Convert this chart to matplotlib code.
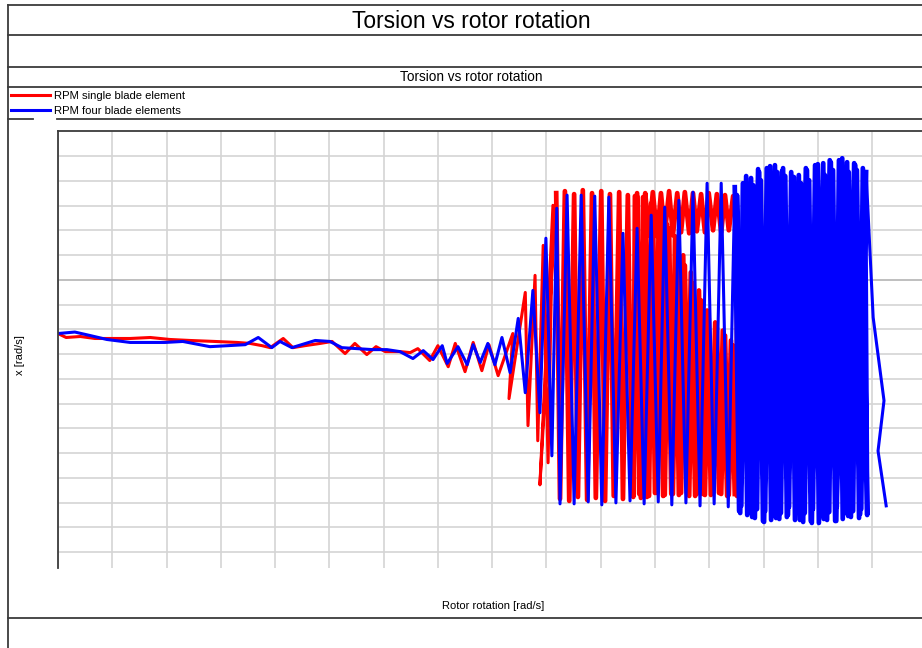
import matplotlib
matplotlib.use("Agg")
import matplotlib.pyplot as plt
from matplotlib.lines import Line2D

plt.rcParams['font.family'] = ['Liberation Sans', 'DejaVu Sans']

title = "Torsion vs rotor rotation"
subtitle = "Torsion vs rotor rotation"
x_label = "Rotor rotation [rad/s]"
y_label = "x [rad/s]"
series_names = ["RPM single blade element", "RPM four blade elements"]

# ---------------- red series: RPM single blade element ----------------
red_x = [
    # slow drift / small wiggles
    0.00, 0.15, 0.41, 0.68, 1.33, 1.70, 2.06, 2.43, 2.89, 3.30, 3.54, 3.76, 3.91, 4.15,
    4.33, 4.55, 4.83, 5.05, 5.29, 5.47, 5.69, 5.86, 6.03, 6.30, 6.49, 6.63, 6.85, 7.00,
    7.19, 7.32, 7.50, 7.65, 7.81, 7.94, 8.11, 8.38,
    # growing oscillation
    8.31, 8.61, 8.66, 8.79, 8.84, 8.94, 9.03, 9.12, 8.88, 9.18,
    # dense strokes
    9.25, 9.34, 9.42, 9.51, 9.58, 9.67, 9.75, 9.84, 9.91, 10.01, 10.08, 10.17, 10.24,
    10.34, 10.41, 10.50, 10.58, 10.67, 10.74,
    # upper band
    10.82, 10.89, 10.96, 11.04, 11.11, 11.18, 11.26, 11.33, 11.41, 11.48, 11.55, 11.63,
    11.70, 11.77, 11.85, 11.92, 11.99, 12.07, 12.14, 12.22, 12.29, 12.36, 12.44, 12.51,
    # return strokes under the diagonal
    12.51, 12.44, 12.36, 12.29, 12.22, 12.14, 12.07, 11.99, 11.92, 11.85, 11.77, 11.70,
    11.63, 11.55, 11.48, 11.41, 11.33, 11.26, 11.18, 11.11, 11.04, 10.96, 10.89, 10.82,
    10.74, 10.67, 10.60,
    # second forward sweep under the diagonal
    10.63, 10.71, 10.78, 10.85, 10.93, 11.00, 11.07, 11.15, 11.22, 11.30, 11.37, 11.44,
    11.52, 11.59, 11.66, 11.74, 11.81, 11.88, 11.96, 12.03, 12.11, 12.18, 12.25, 12.33,
    12.40, 12.47,
]
red_y = [
    0.83, 0.67, 0.71, 0.63, 0.63, 0.67, 0.59, 0.55, 0.51, 0.47, 0.43, 0.34, 0.26, 0.63,
    0.26, 0.34, 0.43, 0.51, 0.02, 0.43, -0.02, 0.30, 0.10, 0.10, 0.06, 0.22, -0.26, 0.34,
    -0.51, 0.43, -0.71, 0.47, -0.67, 0.38, -0.87, 0.83,
    -1.80, 2.49, -2.89, 3.18, -3.50, 4.39, -4.39, 6.01, -5.28, 6.50,
    -5.85, 6.58, -5.93, 6.46, -5.77, 6.62, -5.89, 6.50, -5.81, 6.58, -5.93, 6.46, -5.73,
    6.54, -5.85, 6.42, -5.69, 6.50, -5.81,
    6.50, 4.80, 6.54, 4.76, 6.50, 4.84, 6.58, 4.80, 6.50, 4.92, 6.54, 4.88,
    6.50, 4.96, 6.46, 4.92, 6.50, 5.00, 6.46, 4.92, 6.42, 5.00, 6.38, 5.08,
    -5.73, 0.34, -5.69, 0.75, -5.65, 1.07, -5.61, 1.44, -5.69, 2.17, -5.65, 2.85,
    -5.73, 3.58, -5.61, 4.51, -5.65, 5.08, -5.69, 5.61, -5.61, 6.01, -5.73, 6.30,
    -5.53, 6.38, -5.77,
    6.38, -5.65, 6.34, -5.77, 6.09, -5.61, 5.73, -5.73, 5.24, -5.65, 4.76, -5.69,
    3.99, -5.61, 3.30, -5.73, 2.57, -5.65, 1.76, -5.69, 1.28, -5.61, 0.95, -5.73,
    0.55, -5.65,
]

# ---------------- blue series: RPM four blade elements ----------------
blue_x = [
    0.00, 0.31, 0.59, 0.90, 1.33, 1.97, 2.30, 2.80, 3.13, 3.45, 3.69, 3.94, 4.09, 4.31,
    4.74, 5.01, 5.23, 5.51, 5.80, 6.06, 6.30, 6.54, 6.73, 6.91, 7.08, 7.17, 7.37, 7.54,
    7.65, 7.78, 7.92, 8.05, 8.18, 8.33,
    8.48, 8.61, 8.75, 8.88, 8.99, 9.10, 9.19, 9.25,
    9.38, 9.51, 9.64, 9.77, 9.89, 10.02, 10.15, 10.28, 10.41, 10.54, 10.67, 10.80, 10.93,
    11.06, 11.18, 11.31, 11.44, 11.57, 11.70, 11.83, 11.96, 12.09, 12.22, 12.35, 12.47,
    # dense region, forward
    12.55, 12.62, 12.70, 12.77, 12.84, 12.92, 12.99, 13.06, 13.14, 13.21, 13.29, 13.36,
    13.43, 13.51, 13.58, 13.65, 13.73, 13.80, 13.87, 13.95, 14.02, 14.10, 14.17, 14.24,
    14.32, 14.39, 14.46, 14.54, 14.61, 14.69, 14.76, 14.83, 14.91,
    # dense region, backward
    14.87, 14.80, 14.72, 14.65, 14.57, 14.50, 14.43, 14.35, 14.28, 14.21, 14.13, 14.06,
    13.99, 13.91, 13.84, 13.76, 13.69, 13.62, 13.54, 13.47, 13.40, 13.32, 13.25, 13.17,
    13.10, 13.03, 12.95, 12.88, 12.81, 12.73, 12.66, 12.59, 12.51,
    # dense region, forward again and the right edge
    12.57, 12.68, 12.79, 12.90, 13.01, 13.12, 13.23, 13.34, 13.45, 13.56, 13.67, 13.78,
    13.89, 14.00, 14.11, 14.22, 14.34, 14.45, 14.56, 14.67, 14.78, 14.89,
    15.02, 15.22, 15.11, 15.26,
]
blue_y = [
    0.83, 0.89, 0.75, 0.59, 0.47, 0.47, 0.51, 0.30, 0.34, 0.38, 0.67, 0.26, 0.51, 0.26,
    0.55, 0.51, 0.26, 0.22, 0.18, 0.18, 0.10, -0.18, 0.14, -0.22, 0.34, -0.38, 0.30, -0.43,
    0.38, -0.34, 0.43, -0.43, 0.67, -0.75,
    1.44, -1.56, 2.57, -2.37, 4.68, -4.11, 5.89, -6.05,
    6.42, -6.05, 6.42, -5.97, 6.38, -6.09, 6.34, -6.01, 4.88, -5.93, 5.08, -6.05, 5.61,
    -5.97, 5.93, -6.09, 6.21, -6.01, 6.54, -6.13, 6.90, -6.05, 6.90, -6.17, 6.74,
    -6.34, 6.90, -6.50, 7.11, -6.62, 7.35, -6.74, 7.51, -6.70, 7.63, -6.66, 7.51,
    -6.58, 7.35, -6.70, 7.23, -6.78, 7.43, -6.74, 7.63, -6.82, 7.71, -6.70, 7.75,
    -6.74, 7.83, -6.66, 7.75, -6.58, 7.63, -6.62, 7.51, -6.50,
    7.11, -6.26, 7.43, -6.34, 7.35, -6.42, 7.59, -6.17, 7.43, -6.38, 7.23, -6.50,
    7.35, -6.26, 7.02, -6.42, 6.90, -6.34, 7.11, -6.17, 7.19, -6.42, 7.35, -6.50,
    7.11, -6.34, 7.02, -6.26, 6.82, -6.38, 6.62, -6.13, 6.42,
    -6.42, 7.19, -6.58, 7.47, -6.78, 7.59, -6.62, 7.39, -6.50, 7.15, -6.70, 7.51,
    -6.82, 7.67, -6.66, 7.83, -6.74, 7.91, -6.54, 7.71, -6.46, 7.35,
    1.48, -1.88, -3.91, -6.13,
]

x_grid = list(range(0, 16))
y_grid = list(range(-8, 9))

W, H = 922, 648
fig = plt.figure(figsize=(W / 100, H / 100), dpi=100)

def fx(px):
    return px / W

def fy(py):
    return 1 - py / H

frame_c = "#3c3c3c"
for (x0, x1, yy) in [(8, W, 5), (8, W, 35), (8, W, 67), (8, W, 87),
                     (8, 33, 119), (57, W, 119), (8, W, 618)]:
    fig.add_artist(Line2D([fx(x0), fx(x1)], [fy(yy), fy(yy)], color=frame_c, lw=1.3))
fig.add_artist(Line2D([fx(8), fx(8)], [fy(5), fy(H)], color=frame_c, lw=1.3))

fig.text(fx(471), fy(21), title, ha="center", va="center", fontsize=16.4)
fig.text(fx(471), fy(77), subtitle, ha="center", va="center", fontsize=9.8)

ax = fig.add_axes([fx(58), fy(568), fx(W - 58), (568 - 131) / H])
ax.set_xlim(0, 15.92)
ax.set_ylim(-8.64, 9.01)
ax.set_xticks(x_grid)
ax.set_yticks(y_grid)
ax.tick_params(length=0, labelleft=False, labelbottom=False)
ax.grid(True, color="#d4d4d4", lw=1.2)
for gl, v in zip(ax.get_ygridlines(), y_grid):
    if v == 3:
        gl.set_color("#b4b4b4")
ax.set_axisbelow(True)
for s in ["right", "bottom"]:
    ax.spines[s].set_visible(False)
for s in ["left", "top"]:
    ax.spines[s].set_color(frame_c)
    ax.spines[s].set_linewidth(1.3)

RED, BLUE = "#ff0000", "#0000ff"
thin, thick = 2.2, 3.4
# red: sparse lead-in thin, dense tangle thicker
l_red, = ax.plot(red_x[:46], red_y[:46], color=RED, lw=thin, solid_joinstyle="round")
ax.plot(red_x[45:], red_y[45:], color=RED, lw=thick, solid_joinstyle="round")
# blue: lead-in and strokes through the red tangle thin, own tangle thicker
l_blue, = ax.plot(blue_x[:67], blue_y[:67], color=BLUE, lw=thin, solid_joinstyle="round")
ax.plot(blue_x[66:-4], blue_y[66:-4], color=BLUE, lw=thick, solid_joinstyle="round")
ax.plot(blue_x[-5:], blue_y[-5:], color=BLUE, lw=thin, solid_joinstyle="round")

fig.legend([l_red, l_blue], series_names, loc="upper left",
           bbox_to_anchor=(fx(11), fy(91)), frameon=False, fontsize=8.1,
           handlelength=3.5, handletextpad=0.3, labelspacing=0.42,
           borderpad=0, borderaxespad=0)

fig.text(fx(20), fy(355), y_label, rotation=90, ha="center", va="center", fontsize=8)
fig.text(fx(493), fy(606), x_label, ha="center", va="center", fontsize=8)

fig.savefig("out.png", dpi=100)
